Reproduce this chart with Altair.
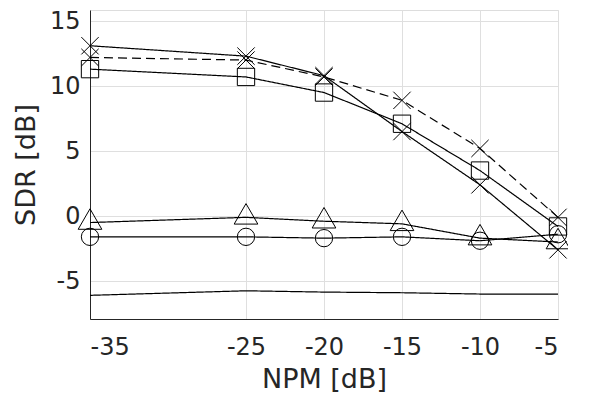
import altair as alt
import pandas as pd

npm = [-35, -25, -20, -15, -10, -5]
sdr_cross_solid = [13.1, 12.3, 10.8, 6.5, 2.4, -2.6]
sdr_cross_dashed = [12.2, 12.0, 10.7, 8.9, 5.2, -0.1]
sdr_square = [11.3, 10.7, 9.5, 7.1, 3.5, -0.8]
sdr_triangle = [-0.5, -0.1, -0.4, -0.6, -1.7, -2.0]
sdr_circle = [-1.6, -1.6, -1.7, -1.6, -1.9, -1.4]
sdr_plain = [-6.1, -5.75, -5.85, -5.9, -6.0, -6.0]

series = {
    "A": sdr_cross_solid,
    "B": sdr_cross_dashed,
    "C": sdr_square,
    "D": sdr_triangle,
    "E": sdr_circle,
    "F": sdr_plain,
}
rows = []
for name, vals in series.items():
    for x, y in zip(npm, vals):
        rows.append({"s": name, "npm": x, "sdr": y})
df = pd.DataFrame(rows)

names = list(series.keys())
xpath = "M-1,-1L1,1M-1,1L1,-1"

common_axis = dict(
    labelExpr="datum.value + ''",
    grid=True,
    gridColor="#dfdfdf",
    domainColor="#262626",
    tickColor="#262626",
    tickSize=0,
    labelFontSize=24,
    labelColor="#262626",
    labelFont="DejaVu Sans",
    titleFont="DejaVu Sans",
    titleFontSize=27,
    titleFontWeight="normal",
    titleColor="#262626",
)

x_enc = alt.X(
    "npm:Q",
    scale=alt.Scale(domain=[-35, -5], nice=False, zero=False),
    axis=alt.Axis(values=npm, title="NPM [dB]", labelPadding=16, titlePadding=7, **common_axis),
)
y_enc = alt.Y(
    "sdr:Q",
    scale=alt.Scale(domain=[-7.92, 15.85], nice=False, zero=False),
    axis=alt.Axis(values=[-5, 0, 5, 10, 15], title="SDR [dB]", labelPadding=10, titlePadding=9, **common_axis),
)

lines = alt.Chart(df).mark_line(color="black", strokeWidth=1.2).encode(
    x=x_enc,
    y=y_enc,
    detail="s:N",
    strokeDash=alt.StrokeDash(
        "s:N",
        scale=alt.Scale(domain=names, range=[[1, 0], [9, 5], [1, 0], [1, 0], [1, 0], [1, 0]]),
        legend=None,
    ),
)

pts_df = df[df["s"].isin(["A", "B", "C", "E"])]
points = alt.Chart(pts_df).mark_point(filled=False, color="black", strokeWidth=1, opacity=1).encode(
    x="npm:Q",
    y="sdr:Q",
    shape=alt.Shape(
        "s:N",
        scale=alt.Scale(domain=["A", "B", "C", "E"],
                        range=[xpath, xpath, "square", "circle"]),
        legend=None,
    ),
    size=alt.Size(
        "s:N",
        scale=alt.Scale(domain=["A", "B", "C", "E"], range=[300, 300, 256, 380]),
        legend=None,
    ),
)

tri_df = df[df["s"] == "D"]
triangles = alt.Chart(tri_df).mark_point(
    filled=False, color="black", strokeWidth=1, opacity=1,
    shape="triangle-up", size=560, yOffset=-3.5,
).encode(x="npm:Q", y="sdr:Q")

chart = (lines + points + triangles).properties(
    width=468,
    height=309,
    autosize=alt.AutoSizeParams(type="none"),
    padding={"left": 82, "top": 2, "right": 10, "bottom": 80},
).configure_view(stroke=None).configure(background="white")

chart.save("out.html", embed_options={"renderer": "svg", "actions": False})
